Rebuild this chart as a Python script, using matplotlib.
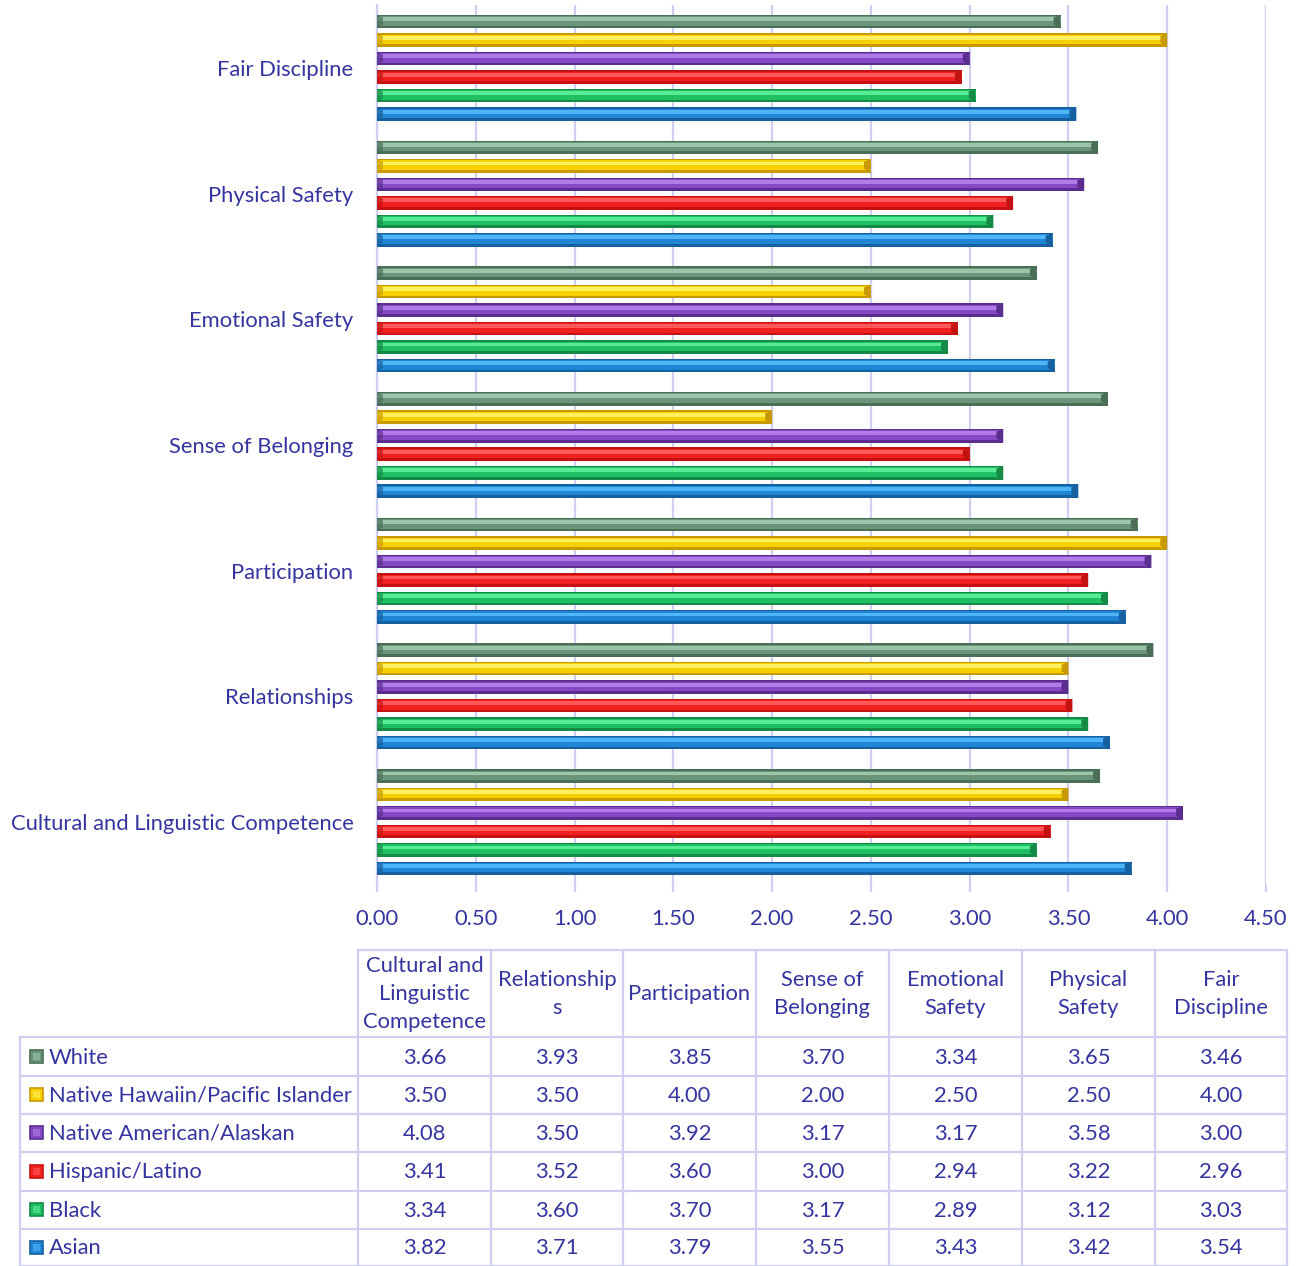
import numpy as np
import matplotlib.pyplot as plt
from matplotlib.lines import Line2D

plt.rcParams['font.family'] = ['Lato', 'DejaVu Sans']

# climate survey scores by domain and student group
domains = ['Cultural and Linguistic Competence', 'Relationships', 'Participation',
           'Sense of Belonging', 'Emotional Safety', 'Physical Safety', 'Fair Discipline']
header_labels = ['Cultural and\nLinguistic\nCompetence', 'Relationship\ns', 'Participation',
                 'Sense of\nBelonging', 'Emotional\nSafety', 'Physical\nSafety', 'Fair\nDiscipline']

groups = ['Asian', 'Black', 'Hispanic/Latino', 'Native American/Alaskan',
          'Native Hawaiin/Pacific Islander', 'White']
asian = [3.82, 3.71, 3.79, 3.55, 3.43, 3.42, 3.54]
black = [3.34, 3.60, 3.70, 3.17, 2.89, 3.12, 3.03]
hispanic = [3.41, 3.52, 3.60, 3.00, 2.94, 3.22, 2.96]
native_american = [4.08, 3.50, 3.92, 3.17, 3.17, 3.58, 3.00]
native_hawaiian = [3.50, 3.50, 4.00, 2.00, 2.50, 2.50, 4.00]
white = [3.66, 3.93, 3.85, 3.70, 3.34, 3.65, 3.46]
series = [asian, black, hispanic, native_american, native_hawaiian, white]

# (dark, base, light) shades for the bevelled bars
shades = [
    ('#17609f', '#1f86d6', '#4fb4f5'),
    ('#148a46', '#1fc063', '#58ec95'),
    ('#c41212', '#f22020', '#ff5a5a'),
    ('#5a2d8e', '#8748c6', '#b27ce6'),
    ('#c99a00', '#f6d000', '#fff060'),
    ('#4b6e56', '#6a957a', '#9cc6aa'),
]

text_color = '#3535a0'
grid_color = '#cfcff0'
fs = 15.8

W, H = 1297, 1266
fig = plt.figure(figsize=(W / 100, H / 100), dpi=100)
ax = fig.add_axes([377 / W, 1 - 885 / H, (1266 - 377) / W, 880 / H])

y = np.arange(len(domains))
slot = 0.147
bar_h = 0.108
bevel = 0.035

for i, (vals, (dark, base, light)) in enumerate(zip(series, shades)):
    yy = y + (i - 2.5) * slot
    ax.barh(yy, vals, height=bar_h, color=dark, zorder=3)
    ax.barh(yy + bar_h * 0.05, vals, height=bar_h * 0.7, color=base, zorder=4)
    ax.barh(yy + bar_h * 0.18, vals, height=bar_h * 0.28, color=light, zorder=5)
    for v, c in zip(vals, yy):
        # bevel facets at both ends of the bar
        ax.fill([v - bevel, v, v, v - bevel], [c - bar_h * 0.2, c - bar_h / 2, c + bar_h / 2, c + bar_h * 0.3],
                color=dark, zorder=6, lw=0)
        ax.fill([0, 0.03, 0.03, 0], [c - bar_h / 2, c - bar_h * 0.2, c + bar_h * 0.3, c + bar_h / 2],
                color=dark, alpha=0.7, zorder=6, lw=0)

ax.set_xlim(0, 4.5)
ax.set_ylim(-0.5, len(domains) - 0.5)
ax.set_xticks(np.arange(0, 4.51, 0.5))
ax.set_xticklabels([f'{t:.2f}' for t in np.arange(0, 4.51, 0.5)])
ax.set_yticks(y)
ax.set_yticklabels(domains)
ax.grid(axis='x', color=grid_color, lw=1.6, zorder=0)
for s in ['top', 'right', 'bottom']:
    ax.spines[s].set_visible(False)
ax.spines['left'].set_color(grid_color)
ax.spines['left'].set_linewidth(1.6)
ax.tick_params(axis='x', colors=grid_color, length=5, width=1.6, pad=12, labelsize=fs, labelcolor=text_color)
ax.tick_params(axis='y', length=0, pad=17, labelsize=fs, labelcolor=text_color)

# data table underneath the chart, laid out in pixel coordinates
tab = fig.add_axes([0, 0, 1, 1])
tab.set_xlim(0, W)
tab.set_ylim(H, 0)
tab.axis('off')

col_edges = [358, 491, 623, 756, 889, 1022, 1155, 1287]
row_edges = [1037, 1076, 1114, 1152, 1191, 1229, 1266]
label_left = 20
header_top = 950
lkw = dict(color=grid_color, lw=1.6)

tab.add_line(Line2D([col_edges[0], col_edges[-1]], [header_top, header_top], **lkw))
for x in col_edges:
    tab.add_line(Line2D([x, x], [header_top, row_edges[-1]], **lkw))
tab.add_line(Line2D([label_left, label_left], [row_edges[0], row_edges[-1]], **lkw))
for r in row_edges:
    tab.add_line(Line2D([label_left, col_edges[-1]], [r, r], **lkw))

for j, lab in enumerate(header_labels):
    cx = (col_edges[j] + col_edges[j + 1]) / 2
    tab.text(cx, (header_top + row_edges[0]) / 2 + 1, lab, ha='center', va='center',
             color=text_color, fontsize=fs, linespacing=1.5)

table_order = list(range(len(groups)))[::-1]
for r, gi in enumerate(table_order):
    cy = (row_edges[r] + row_edges[r + 1]) / 2
    dark, base, light = shades[gi]
    tab.add_patch(plt.Rectangle((30, cy - 7), 13, 13, facecolor=base, edgecolor=dark, lw=1.2))
    tab.add_patch(plt.Rectangle((33, cy - 4), 7, 7, facecolor=light, edgecolor='none', alpha=0.6))
    tab.text(49, cy + 1, groups[gi], ha='left', va='center', color=text_color, fontsize=fs)
    for j, v in enumerate(series[gi]):
        cx = (col_edges[j] + col_edges[j + 1]) / 2
        tab.text(cx, cy + 1, f'{v:.2f}', ha='center', va='center', color=text_color, fontsize=fs)

fig.savefig('out.png', dpi=100, facecolor='white')
